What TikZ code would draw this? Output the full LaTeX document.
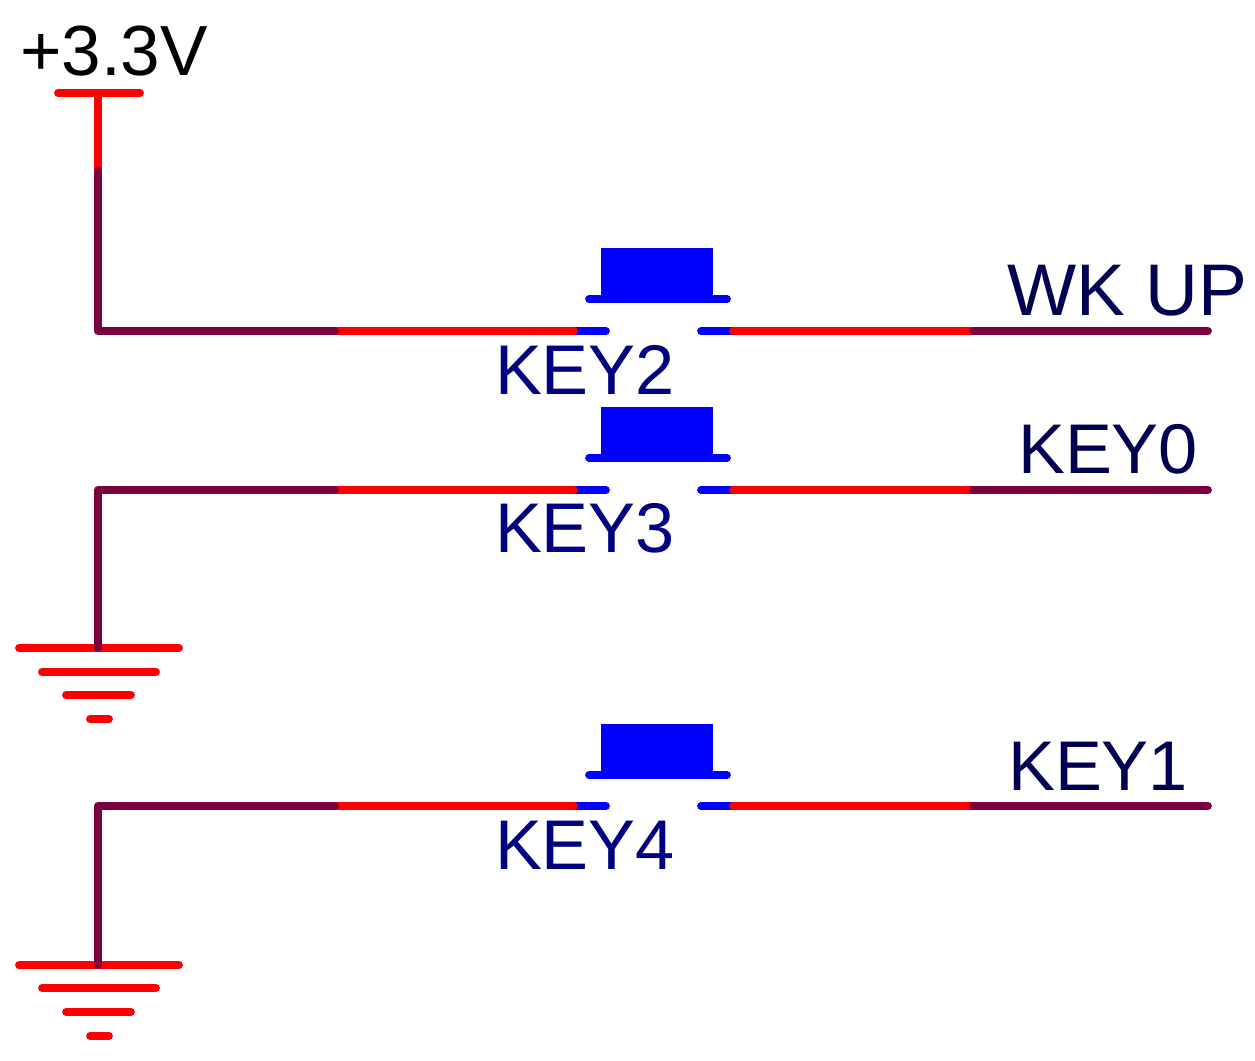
\documentclass[tikz,border=0pt]{standalone}
\usepackage{fontspec}
\setmainfont{Liberation Sans}
\definecolor{wirepurple}{HTML}{7C0040}
\definecolor{labelnavy}{HTML}{000080}
\definecolor{netnavy}{HTML}{000050}
\tikzset{
  wire/.style={line width=2.2pt,line cap=round,line join=round,wirepurple},
  pin/.style={line width=2.2pt,line cap=round,red},
  lead/.style={line width=2.2pt,line cap=round,blue},
  keylabel/.style={anchor=base,inner sep=0pt,text=labelnavy,font=\fontsize{20}{21}\selectfont},
  netlabel/.style={anchor=base,inner sep=0pt,text=netnavy,font=\fontsize{20}{21}\selectfont},
}

\begin{document}
\begin{tikzpicture}[x=0.01cm,y=-0.01cm]
  \useasboundingbox (0,0) rectangle (1255,1061);

  % supply
  \node[anchor=base,inner sep=0pt,font=\fontsize{20.2}{21}\selectfont] (vcc) at (114,76) {+3.3V};
  \coordinate (vl) at (58,93);
  \coordinate (vr) at (140,93);
  \coordinate (v0) at (98,93);
  \coordinate (v1) at (98,171);
  \draw[pin] (vl)--(vr);
  \draw[pin] (v0)--(v1);

  % first row
  \coordinate (a0) at (98,331);
  \coordinate (a1) at (335,331);
  \coordinate (a2) at (574,331);
  \coordinate (a3) at (606,331);
  \coordinate (a4) at (701,331);
  \coordinate (a5) at (733,331);
  \coordinate (a6) at (973,331);
  \coordinate (a7) at (1208,331);
  \draw[lead] (a2)--(a3);
  \draw[lead] (a4)--(a5);
  \draw[pin] (a1)--(a2);
  \draw[pin] (a5)--(a6);
  \draw[wire] (v1)--(a0)--(a1);
  \draw[wire] (a6)--(a7);
  \fill[blue] (601,248) rectangle (713,299);
  \draw[lead] (589,299)--(727,299);
  \node[keylabel] (key2) at (585,394) {KEY2};
  \node[netlabel,font=\fontsize{20.8}{21}\selectfont] (wkup) at (1127,316) {WK UP};

  % second row
  \coordinate (b0) at (98,490);
  \coordinate (b1) at (335,490);
  \coordinate (b2) at (574,490);
  \coordinate (b3) at (606,490);
  \coordinate (b4) at (701,490);
  \coordinate (b5) at (733,490);
  \coordinate (b6) at (973,490);
  \coordinate (b7) at (1208,490);
  \coordinate (g0) at (98,648);
  \draw[lead] (b2)--(b3);
  \draw[lead] (b4)--(b5);
  \draw[pin] (b1)--(b2);
  \draw[pin] (b5)--(b6);
  \draw[pin] (19,648)--(179,648);
  \draw[pin] (42,672)--(156,672);
  \draw[pin] (66,695)--(131,695);
  \draw[pin] (90,719)--(109,719);
  \draw[wire] (g0)--(b0)--(b1);
  \draw[wire] (b6)--(b7);
  \fill[blue] (601,407) rectangle (713,458);
  \draw[lead] (589,458)--(727,458);
  \node[keylabel] (key3) at (585,552) {KEY3};
  \node[netlabel] (key0) at (1108,473) {KEY0};

  % third row
  \coordinate (c0) at (98,806);
  \coordinate (c1) at (335,806);
  \coordinate (c2) at (574,806);
  \coordinate (c3) at (606,806);
  \coordinate (c4) at (701,806);
  \coordinate (c5) at (733,806);
  \coordinate (c6) at (973,806);
  \coordinate (c7) at (1208,806);
  \coordinate (g1) at (98,965);
  \draw[lead] (c2)--(c3);
  \draw[lead] (c4)--(c5);
  \draw[pin] (c1)--(c2);
  \draw[pin] (c5)--(c6);
  \draw[pin] (19,965)--(179,965);
  \draw[pin] (42,988)--(156,988);
  \draw[pin] (66,1012)--(131,1012);
  \draw[pin] (90,1036)--(109,1036);
  \draw[wire] (g1)--(c0)--(c1);
  \draw[wire] (c6)--(c7);
  \fill[blue] (601,724) rectangle (713,775);
  \draw[lead] (589,775)--(727,775);
  \node[keylabel] (key4) at (585,869) {KEY4};
  \node[netlabel] (key1) at (1098,790) {KEY1};
\end{tikzpicture}
\end{document}
